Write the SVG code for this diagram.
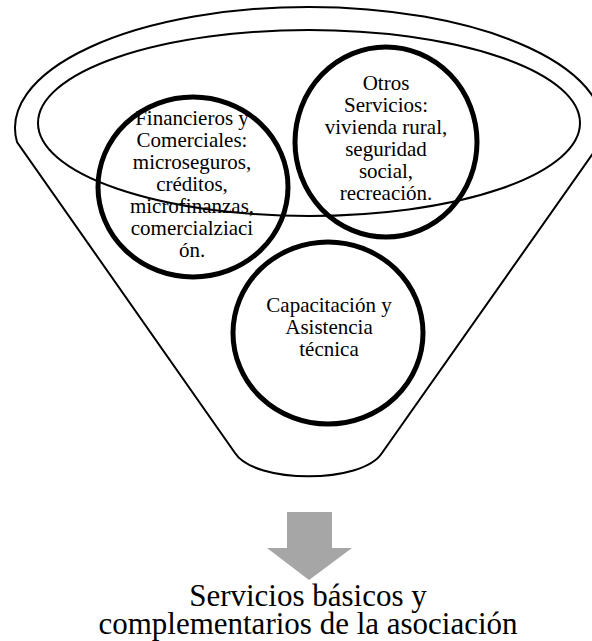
<svg xmlns="http://www.w3.org/2000/svg" width="592" height="641" viewBox="0 0 592 641">
<style>
.funnel{fill:none;stroke:#000;stroke-width:2}
.circ{fill:none;stroke:#000;stroke-width:5}
.t{font-family:"Liberation Serif","Times New Roman",serif;font-size:21px;fill:#000;text-anchor:middle}
.big{font-family:"Liberation Serif","Times New Roman",serif;font-size:31px;fill:#000;text-anchor:middle}
</style>
<rect width="592" height="641" fill="#fff"/>
<g id="funnel">
<path class="funnel" d="M17,142 A294,121 0 1 1 601,142 L382,453 C362,484 255,484 235,453 Z"/>
<ellipse class="funnel" cx="309" cy="123" rx="271" ry="93"/>
</g>
<g id="node-financieros">
<ellipse class="circ" cx="193" cy="187" rx="95" ry="90"/>
<text class="t"><tspan x="192" y="125">Financieros y</tspan><tspan x="192" y="147">Comerciales:</tspan><tspan x="192" y="169">microseguros,</tspan><tspan x="192" y="191">créditos,</tspan><tspan x="192" y="213">microfinanzas,</tspan><tspan x="192" y="235">comercialziaci</tspan><tspan x="192" y="257">ón.</tspan></text>
</g>
<g id="node-otros">
<ellipse class="circ" cx="386" cy="142" rx="91" ry="95"/>
<text class="t"><tspan x="386" y="90">Otros</tspan><tspan x="386" y="112">Servicios:</tspan><tspan x="386" y="134">vivienda rural,</tspan><tspan x="386" y="156">seguridad</tspan><tspan x="386" y="178">social,</tspan><tspan x="386" y="200">recreación.</tspan></text>
</g>
<g id="node-capacitacion">
<ellipse class="circ" cx="328" cy="333" rx="95" ry="91"/>
<text class="t"><tspan x="329" y="312">Capacitación y</tspan><tspan x="329" y="334">Asistencia</tspan><tspan x="329" y="356">técnica</tspan></text>
</g>
<g id="connectors">
<path d="M287,512 H332 V548 H352 L309,580 L267,548 H287 Z" fill="#a6a6a6"/>
</g>
<g id="node-result">
<text class="big"><tspan x="308" y="606">Servicios básicos y</tspan><tspan x="308" y="634">complementarios de la asociación</tspan></text>
</g>
</svg>
